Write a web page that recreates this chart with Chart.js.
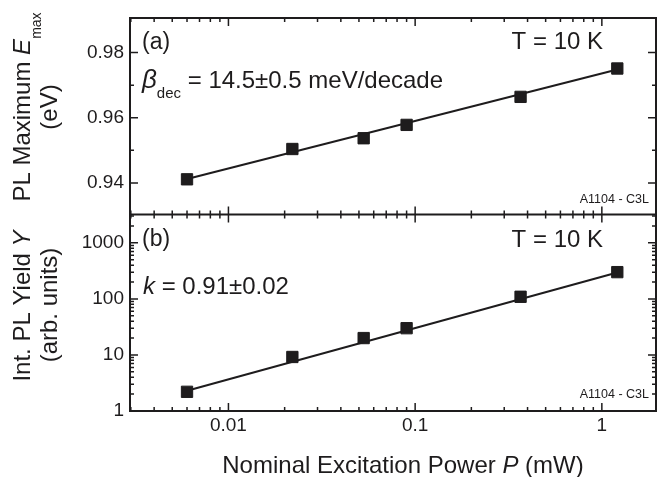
<!DOCTYPE html>
<html>
<head>
<meta charset="utf-8">
<script src="https://cdn.jsdelivr.net/npm/chart.js@4/dist/chart.umd.min.js"></script>
<style>
  html, body { margin: 0; padding: 0; background: #ffffff; }
  #wrap { width: 657px; height: 477px; position: relative; }
  canvas { display: block; }
</style>
</head>
<body>
<div id="wrap"><canvas id="c" width="657" height="477"></canvas></div>
<script>
// ---- data ----
const power      = [0.006, 0.022, 0.053, 0.090, 0.367, 1.21];     // P (mW)
const energyMax  = [0.9411, 0.9504, 0.9537, 0.9578, 0.9664, 0.9751]; // E_max (eV)
const plYield    = [2.2, 9.2, 20, 30, 109, 300];                   // Y (arb. units)
const fitPower   = [0.006, 1.21];
const fitEnergy  = [0.9412, 0.9748];
const fitYield   = [2.3, 295];

// ---- axis ticks / labels ----
const xTickValues  = [0.01, 0.1, 1];
const xTickLabels  = ['0.01', '0.1', '1'];
const eTickValues  = [0.94, 0.96, 0.98];
const eTickLabels  = ['0.94', '0.96', '0.98'];
const eMinorTicks  = [0.95, 0.97];
const yTickValues  = [1, 10, 100, 1000];
const yTickLabels  = ['1', '10', '100', '1000'];

const INK = '#1e1c1d';
const FONT = "'Liberation Sans', Arial, Helvetica, sans-serif";

function pts(xs, ys) { return xs.map((x, i) => ({ x: x, y: ys[i] })); }

function logMinors(min, max) {
  const out = [];
  for (let d = -4; d <= 4; d++) {
    for (let m = 1; m <= 9; m++) {
      const v = m * Math.pow(10, d);
      if (v >= min && v <= max) out.push(v);
    }
  }
  return out;
}

function rich(ctx, x, y, parts, align) {
  let w = 0;
  parts.forEach(p => { ctx.font = p.f; p.w = ctx.measureText(p.t).width; w += p.w; });
  let cx = align === 'right' ? x - w : (align === 'center' ? x - w / 2 : x);
  ctx.textAlign = 'left';
  ctx.textBaseline = 'alphabetic';
  parts.forEach(p => { ctx.font = p.f; ctx.fillText(p.t, cx, y + (p.dy || 0)); cx += p.w; });
}

const framePlugin = {
  id: 'frame',
  afterDraw(chart) {
    const ctx = chart.ctx;
    const ca = chart.chartArea;
    const xs = chart.scales.x, sE = chart.scales.yE, sY = chart.scales.yY;
    ctx.save();
    ctx.strokeStyle = INK;
    ctx.fillStyle = INK;
    // frame
    ctx.lineWidth = 2;
    ctx.strokeRect(ca.left, ca.top, ca.right - ca.left, ca.bottom - ca.top);
    ctx.beginPath();
    ctx.moveTo(ca.left, sE.bottom); ctx.lineTo(ca.right, sE.bottom);
    ctx.stroke();

    // x ticks on every horizontal edge (inward)
    const xMinors = logMinors(xs.min, xs.max);
    const edges = [[sE.top, 1], [sE.bottom, -1], [sY.top, 1], [sY.bottom, -1]];
    ctx.lineWidth = 1.5;
    ctx.beginPath();
    xMinors.forEach(v => {
      const px = xs.getPixelForValue(v);
      const major = xTickValues.some(t => Math.abs(t - v) / t < 1e-6);
      const len = major ? 8 : 4;
      edges.forEach(([y, dir]) => { ctx.moveTo(px, y); ctx.lineTo(px, y + dir * len); });
    });
    ctx.stroke();

    // y ticks (left and right, inward)
    function yTicks(scale, majors, minors) {
      ctx.beginPath();
      majors.forEach(v => {
        const py = scale.getPixelForValue(v);
        ctx.moveTo(ca.left, py); ctx.lineTo(ca.left + 8, py);
        ctx.moveTo(ca.right, py); ctx.lineTo(ca.right - 8, py);
      });
      minors.forEach(v => {
        const py = scale.getPixelForValue(v);
        ctx.moveTo(ca.left, py); ctx.lineTo(ca.left + 4, py);
        ctx.moveTo(ca.right, py); ctx.lineTo(ca.right - 4, py);
      });
      ctx.stroke();
    }
    yTicks(sE, eTickValues, eMinorTicks);
    const yMin = logMinors(sY.min, sY.max).filter(v => !yTickValues.includes(v));
    yTicks(sY, yTickValues, yMin);

    // annotations
    const f = (s, st) => (st || '') + ' ' + s + 'px ' + FONT;
    const L = ca.left;
    rich(ctx, L + 12, sE.top + 31, [{ t: '(a)', f: f(23) }]);
    rich(ctx, L + 473, sE.top + 31, [{ t: 'T = 10 K', f: f(24) }], 'right');
    rich(ctx, L + 12, sE.top + 70, [
      { t: 'β', f: f(26, 'italic') },
      { t: 'dec', f: f(15), dy: 10 },
      { t: ' = 14.5±0.5 meV/decade', f: f(24) }
    ]);
    rich(ctx, L + 519, sE.bottom - 12, [{ t: 'A1104 - C3L', f: f(12.5) }], 'right');

    rich(ctx, L + 12, sY.top + 31, [{ t: '(b)', f: f(23) }]);
    rich(ctx, L + 473, sY.top + 32, [{ t: 'T = 10 K', f: f(24) }], 'right');
    rich(ctx, L + 13, sY.top + 79, [
      { t: 'k', f: f(24, 'italic') },
      { t: ' = 0.91±0.02', f: f(24) }
    ]);
    rich(ctx, L + 519, sY.bottom - 13, [{ t: 'A1104 - C3L', f: f(12.5) }], 'right');

    // x-axis title
    rich(ctx, 403, 473, [
      { t: 'Nominal Excitation Power ', f: f(24) },
      { t: 'P', f: f(24, 'italic') },
      { t: ' (mW)', f: f(24) }
    ], 'center');

    // y-axis titles (rotated)
    function vtitle(x, yc, parts) {
      ctx.save();
      ctx.translate(x, yc);
      ctx.rotate(-Math.PI / 2);
      rich(ctx, 0, 0, parts, 'center');
      ctx.restore();
    }
    vtitle(30, 107, [
      { t: 'PL Maximum ', f: f(24) },
      { t: 'E', f: f(24, 'italic') },
      { t: 'max', f: f(14), dy: 11 }
    ]);
    vtitle(57, 107, [{ t: '(eV)', f: f(24) }]);
    vtitle(30, 306, [
      { t: 'Int. PL Yield ', f: f(24) },
      { t: 'Y', f: f(24, 'italic') }
    ]);
    vtitle(57, 305, [{ t: '(arb. units)', f: f(24) }]);
    ctx.restore();
  }
};

const tickFont = { family: FONT, size: 19 };
const noGrid = { display: false, drawTicks: false };

new Chart(document.getElementById('c'), {
  type: 'scatter',
  data: {
    datasets: [
      { label: 'E_max', data: pts(power, energyMax), yAxisID: 'yE',
        pointStyle: 'rect', pointRadius: 8, backgroundColor: INK, borderColor: INK, borderWidth: 1, showLine: false },
      { label: 'E fit', type: 'line', data: pts(fitPower, fitEnergy), yAxisID: 'yE',
        pointRadius: 0, borderColor: INK, borderWidth: 2, fill: false, tension: 0 },
      { label: 'Yield', data: pts(power, plYield), yAxisID: 'yY',
        pointStyle: 'rect', pointRadius: 8, backgroundColor: INK, borderColor: INK, borderWidth: 1, showLine: false },
      { label: 'Y fit', type: 'line', data: pts(fitPower, fitYield), yAxisID: 'yY',
        pointRadius: 0, borderColor: INK, borderWidth: 2, fill: false, tension: 0 }
    ]
  },
  options: {
    responsive: false,
    animation: false,
    events: [],
    layout: { autoPadding: false, padding: { top: 18, right: 1, left: 0, bottom: 0 } },
    plugins: { legend: { display: false }, tooltip: { enabled: false } },
    scales: {
      x: {
        type: 'logarithmic', position: 'bottom', min: 0.00297, max: 1.95,
        grid: noGrid, border: { display: false },
        ticks: { font: tickFont, color: INK, padding: 3, maxRotation: 0, autoSkip: false,
          callback: (v) => { const i = xTickValues.findIndex(t => Math.abs(t - v) / t < 1e-6); return i >= 0 ? xTickLabels[i] : ''; } },
        afterBuildTicks: (s) => { s.ticks = xTickValues.map(v => ({ value: v })); },
        afterFit: (s) => { s.height = 66; s.paddingLeft = 0; s.paddingRight = 0; }
      },
      yY: {
        type: 'logarithmic', position: 'left', stack: 'panels', stackWeight: 1, min: 1, max: 3200,
        grid: noGrid, border: { display: false },
        ticks: { font: tickFont, color: INK, padding: 6, autoSkip: false,
          callback: (v) => { const i = yTickValues.indexOf(v); return i >= 0 ? yTickLabels[i] : ''; } },
        afterBuildTicks: (s) => { s.ticks = yTickValues.map(v => ({ value: v })); },
        afterFit: (s) => { s.width = 130; s.paddingTop = 0; s.paddingBottom = 0; }
      },
      yE: {
        type: 'linear', position: 'left', stack: 'panels', stackWeight: 1, min: 0.9303, max: 0.9906,
        grid: noGrid, border: { display: false },
        ticks: { font: tickFont, color: INK, padding: 6, autoSkip: false,
          callback: (v) => { const i = eTickValues.findIndex(t => Math.abs(t - v) < 1e-6); return i >= 0 ? eTickLabels[i] : ''; } },
        afterBuildTicks: (s) => { s.ticks = eTickValues.map(v => ({ value: v })); },
        afterFit: (s) => { s.width = 130; s.paddingTop = 0; s.paddingBottom = 0; }
      }
    }
  },
  plugins: [framePlugin]
});
</script>
</body>
</html>
